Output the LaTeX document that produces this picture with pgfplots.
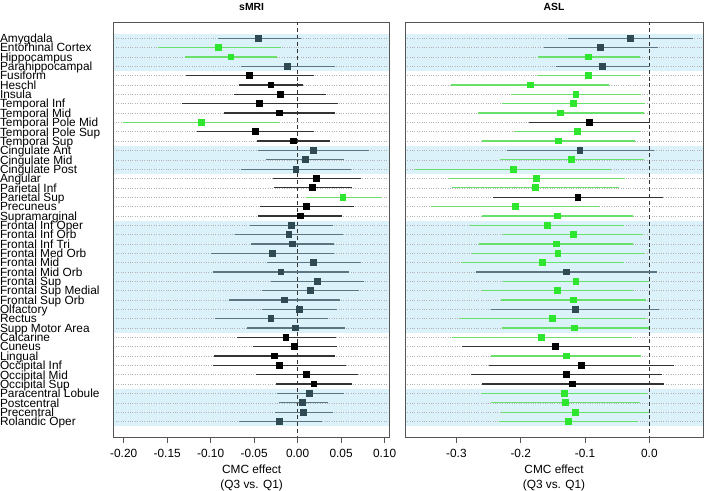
\documentclass[border=0pt]{standalone}
\usepackage{fontspec}
\setmainfont{Liberation Sans}
\usepackage{pgfplots}
\usepackage{pgfplotstable}
\pgfplotsset{compat=1.18}
\definecolor{band}{HTML}{DCF2FA}
\definecolor{gmark}{HTML}{2EE62E}
\definecolor{gline}{HTML}{6AE06A}
\definecolor{smark}{HTML}{2F4A52}
\definecolor{sline}{HTML}{5C7580}
\definecolor{kline}{HTML}{333333}
\definecolor{frame}{HTML}{555555}

% y est lo hi   (y = 43 - row)
\pgfplotstableread{
y est lo hi
41 -0.0906 -0.1610 -0.0197
40 -0.0766 -0.1300 -0.0232
33 -0.1107 -0.2008 -0.0213
25 0.0523 0.0094 0.0955
}\smriG
\pgfplotstableread{
y est lo hi
42 -0.0447 -0.0917 0.0038
39 -0.0114 -0.0652 0.0432
30 0.0185 -0.0451 0.0825
29 0.0087 -0.0364 0.0534
28 -0.0019 -0.0648 0.0609
22 -0.0072 -0.0546 0.0405
21 -0.0099 -0.0720 0.0526
20 -0.0057 -0.0531 0.0416
19 -0.0288 -0.0993 0.0413
18 0.0182 -0.0352 0.0723
17 -0.0190 -0.0974 0.0591
16 0.0231 -0.0303 0.0761
15 0.0151 -0.0409 0.0711
14 -0.0152 -0.0789 0.0489
13 0.0023 -0.0409 0.0455
12 -0.0307 -0.0955 0.0344
11 -0.0023 -0.0584 0.0545
4 0.0140 -0.0243 0.0530
3 0.0060 -0.0216 0.0352
2 0.0068 -0.0258 0.0401
1 -0.0205 -0.0678 0.0276
}\smriS
\pgfplotstableread{
y est lo hi
38 -0.0550 -0.1280 0.0193
37 -0.0307 -0.0678 0.0064
36 -0.0201 -0.0727 0.0322
35 -0.0436 -0.1334 0.0466
34 -0.0209 -0.0849 0.0432
32 -0.0485 -0.1152 0.0185
31 -0.0045 -0.0462 0.0367
27 0.0219 -0.0281 0.0723
26 0.0170 -0.0277 0.0625
24 0.0106 -0.0428 0.0648
23 0.0030 -0.0451 0.0511
10 -0.0133 -0.0701 0.0443
9 -0.0038 -0.0516 0.0447
8 -0.0269 -0.0962 0.0432
7 -0.0212 -0.0970 0.0553
6 0.0102 -0.0482 0.0689
5 0.0189 -0.0247 0.0629
}\smriK

\pgfplotstableread{
y est lo hi
40 -0.0949 -0.1733 -0.0144
38 -0.0949 -0.1744 -0.0144
37 -0.1852 -0.3083 -0.0626
36 -0.1139 -0.2149 -0.0134
35 -0.1185 -0.2298 -0.0062
34 -0.1380 -0.2657 -0.0087
32 -0.1118 -0.2088 -0.0144
31 -0.1415 -0.2595 -0.0231
29 -0.1205 -0.2329 -0.0082
28 -0.2108 -0.3641 -0.0590
27 -0.1754 -0.3113 -0.0380
26 -0.1775 -0.3062 -0.0477
24 -0.2083 -0.3390 -0.0780
23 -0.1426 -0.2595 -0.0257
22 -0.1585 -0.2785 -0.0400
21 -0.1185 -0.2282 -0.0103
20 -0.1441 -0.2646 -0.0257
19 -0.1421 -0.2754 -0.0082
18 -0.1662 -0.2923 -0.0400
16 -0.1139 -0.2272 -0.0010
15 -0.1426 -0.2595 -0.0257
14 -0.1185 -0.2313 -0.0057
12 -0.1508 -0.2938 -0.0057
11 -0.1159 -0.2298 -0.0010
10 -0.1682 -0.3067 -0.0277
8 -0.1287 -0.2457 -0.0123
4 -0.1323 -0.2615 -0.0036
3 -0.1308 -0.2467 -0.0144
2 -0.1154 -0.2303 -0.0005
1 -0.1252 -0.2334 -0.0180
}\aslG
\pgfplotstableread{
y est lo hi
42 -0.0292 -0.1272 0.0677
41 -0.0759 -0.1641 0.0128
39 -0.0723 -0.1452 0.0005
30 -0.1077 -0.2221 0.0077
17 -0.1292 -0.2698 0.0118
13 -0.1149 -0.2457 0.0154
}\aslS
\pgfplotstableread{
y est lo hi
33 -0.0928 -0.1867 0.0005
25 -0.1108 -0.2426 0.0215
9 -0.1457 -0.2918 -0.0005
7 -0.1057 -0.2498 0.0385
6 -0.1292 -0.2780 0.0189
5 -0.1190 -0.2606 0.0225
}\aslK

\pgfplotsset{
  forest/.style={
    scale only axis, set layers,
    height=419pt, ymin=-0.65, ymax=43.65,
    ytick={1,...,42}, ymajorgrids,
    grid style={dotted, gray!60, line width=0.6pt},
    ytick style={draw=none},
    axis line style={draw=frame, line width=0.8pt},
    xtick style={draw=frame, line width=0.8pt},
    tick align=outside, major tick length=6pt,
    xtick pos=bottom,
    xticklabel style={font=\fontsize{12}{12}\selectfont, yshift=-3pt},
    xlabel={CMC effect\\(Q3 vs. Q1)},
    xlabel style={at={(axis description cs:0.5,0)}, anchor=north, inner sep=0pt,
      yshift=-28pt, align=center, font=\fontsize{12}{15}\selectfont},
    title style={at={(axis description cs:0.5,1)}, anchor=base, yshift=6.5pt,
      font=\fontsize{10.5}{12}\selectfont\bfseries},
  },
  ci/.style 2 args={only marks, mark=square*, mark size=2.9pt,
    mark options={fill=#1, draw=#1, line width=0pt},
    error bars/.cd, x dir=both, x explicit, error mark=none,
    error bar style={#2, line width=1.3pt}},
}
\newcommand{\ciplot}[3]{%
  \addplot[ci={#1}{#2}]
    table[x=est, y=y, x error plus expr=\thisrow{hi}-\thisrow{est},
          x error minus expr=\thisrow{est}-\thisrow{lo}] {#3};}

\begin{document}
\begin{tikzpicture}
\path (0,0) rectangle (709pt,488pt);
% sMRI
\begin{axis}[forest, at={(110.3pt,53.7pt)}, anchor=south west, width=279.7pt,
  xmin=-0.2118, xmax=0.106, title={sMRI},
  xtick={-0.2,-0.15,-0.1,-0.05,0,0.05,0.1},
  xticklabels={-0.20,-0.15,-0.10,-0.05,0.00,0.05,0.10},
  yticklabels={Rolandic Oper, Precentral, Postcentral, Paracentral Lobule, Occipital Sup, Occipital Mid, Occipital Inf, Lingual, Cuneus, Calcarine, Supp Motor Area, Rectus, Olfactory, Frontal Sup Orb, Frontal Sup Medial, Frontal Sup, Frontal Mid Orb, Frontal Mid, Frontal Med Orb, Frontal Inf Tri, Frontal Inf Orb, Frontal Inf Oper, Supramarginal, Precuneus, Parietal Sup, Parietal Inf, Angular, Cingulate Post, Cingulate Mid, Cingulate Ant, Temporal Sup, Temporal Pole Sup, Temporal Pole Mid, Temporal Mid, Temporal Inf, Insula, Heschl, Fusiform, Parahippocampal, Hippocampus, Entorhinal Cortex, Amygdala},
  yticklabel style={anchor=base west, inner sep=0pt, xshift=-109pt, yshift=-4.3pt,
    font=\fontsize{12}{12}\selectfont},
]
\begin{pgfonlayer}{axis background}
\fill[band] (axis cs:-0.2118,42.5) rectangle (axis cs:0.106,38.5);
\fill[band] (axis cs:-0.2118,30.5) rectangle (axis cs:0.106,27.5);
\fill[band] (axis cs:-0.2118,22.5) rectangle (axis cs:0.106,10.5);
\fill[band] (axis cs:-0.2118,4.5) rectangle (axis cs:0.106,0.5);
\end{pgfonlayer}
\addplot[black!80, line width=0.8pt, dash pattern=on 4pt off 3pt] coordinates {(0,-1) (0,45)};
\ciplot{smark}{sline}{\smriS}
\ciplot{black}{kline}{\smriK}
\ciplot{gmark}{gline}{\smriG}
\end{axis}
% ASL
\begin{axis}[forest, at={(405.3pt,53.7pt)}, anchor=south west, width=301.7pt,
  xmin=-0.38, xmax=0.0835, title={ASL},
  xtick={-0.3,-0.2,-0.1,0},
  xticklabels={-0.3,-0.2,-0.1,0.0},
  yticklabels={},
]
\begin{pgfonlayer}{axis background}
\fill[band] (axis cs:-0.38,42.5) rectangle (axis cs:0.0835,38.5);
\fill[band] (axis cs:-0.38,30.5) rectangle (axis cs:0.0835,27.5);
\fill[band] (axis cs:-0.38,22.5) rectangle (axis cs:0.0835,10.5);
\fill[band] (axis cs:-0.38,4.5) rectangle (axis cs:0.0835,0.5);
\end{pgfonlayer}
\addplot[black!80, line width=0.8pt, dash pattern=on 4pt off 3pt] coordinates {(0,-1) (0,45)};
\ciplot{smark}{sline}{\aslS}
\ciplot{black}{kline}{\aslK}
\ciplot{gmark}{gline}{\aslG}
\end{axis}
\end{tikzpicture}
\end{document}
